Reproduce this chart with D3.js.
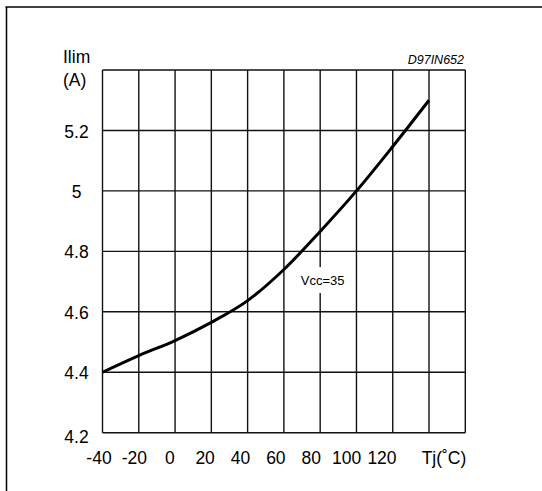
<!DOCTYPE html>
<html>
<head>
<meta charset="utf-8">
<script src="https://cdn.jsdelivr.net/npm/d3@7"></script>
<style>
  html, body { margin: 0; padding: 0; background: #fff; }
  svg { display: block; font-family: "Liberation Sans", Arial, sans-serif; }
</style>
</head>
<body>
<svg id="chart" width="542" height="491"></svg>
<script>
// ---- data ----
const tempC = [-40, -20, 0, 20, 40, 60, 80, 100, 120, 140];
const ilimA = [4.40, 4.455, 4.505, 4.565, 4.637, 4.74, 4.866, 5.0, 5.147, 5.30];
const xTickValues = [-40, -20, 0, 20, 40, 60, 80, 100, 120];
const xGridValues = [-40, -20, 0, 20, 40, 60, 80, 100, 120, 140, 160];
const yTickValues = [4.2, 4.4, 4.6, 4.8, 5.0, 5.2];
const yGridValues = [4.2, 4.4, 4.6, 4.8, 5.0, 5.2, 5.4];
const yTickLabels = ["4.2", "4.4", "4.6", "4.8", "5", "5.2"];
const xAxisTitle = "Tj(˚C)";
const yAxisTitle = ["Ilim", "(A)"];
const figureCode = "D97IN652";
const curveLabel = "Vcc=35";
const curveLabelAt = { t: 80, i: 4.705 };

// ---- layout ----
(function () {
const svg = d3.select("#chart");
const pLeft = 102.5, pRight = 465.3, pTop = 70, pBottom = 432.7;

const x = d3.scaleLinear().domain([-40, 160]).range([pLeft, pRight]);
const y = d3.scaleLinear().domain([4.2, 5.4]).range([pBottom, pTop]);
// tick labels in the original sit on a slightly compressed spacing
const xLab = d3.scaleLinear().domain([-40, 120]).range([99, 382]);

// outer frame (page border)
svg.append("line").attr("x1", 5.5).attr("x2", 542).attr("y1", 7).attr("y2", 7)
  .attr("stroke", "#000").attr("stroke-width", 1.5);
svg.append("line").attr("x1", 6.5).attr("x2", 6.5).attr("y1", 7).attr("y2", 491)
  .attr("stroke", "#000").attr("stroke-width", 1.5);

// grid
const g = svg.append("g");
g.selectAll(".vg").data(xGridValues).join("line")
  .attr("x1", d => x(d)).attr("x2", d => x(d))
  .attr("y1", pTop).attr("y2", pBottom)
  .attr("stroke", "#111").attr("stroke-width", 1.4);
g.selectAll(".hg").data(yGridValues).join("line")
  .attr("x1", pLeft).attr("x2", pRight)
  .attr("y1", d => y(d)).attr("y2", d => y(d))
  .attr("stroke", "#111").attr("stroke-width", 1.4);

// curve
const line = d3.line()
  .x((d, i) => x(tempC[i]))
  .y(d => y(d))
  .curve(d3.curveMonotoneX);
svg.append("path").datum(ilimA)
  .attr("d", line)
  .attr("fill", "none").attr("stroke", "#000").attr("stroke-width", 3)
  .attr("stroke-linecap", "butt");

// curve label with white knockout
const lx = x(curveLabelAt.t) + 2.5, ly = y(curveLabelAt.i);
svg.append("rect").attr("x", lx - 22).attr("y", ly - 13).attr("width", 44).attr("height", 26)
  .attr("fill", "#fff");
svg.append("text").attr("x", lx).attr("y", ly).attr("dy", "0.35em")
  .attr("text-anchor", "middle").attr("font-size", 13).text(curveLabel);

// y tick labels
svg.selectAll(".yl").data(yTickValues).join("text")
  .attr("x", 76.5)
  .attr("y", d => y(d) + (d === 4.2 ? 4 : 1))
  .attr("dy", "0.35em")
  .attr("text-anchor", "middle")
  .attr("font-size", 17.5)
  .text((d, i) => yTickLabels[i]);

// x tick labels
svg.selectAll(".xl").data(xTickValues).join("text")
  .attr("x", d => xLab(d))
  .attr("y", 463.5)
  .attr("text-anchor", "middle")
  .attr("font-size", 17.5)
  .text(d => String(d));

// axis titles
svg.append("text").attr("x", 444).attr("y", 463.5).attr("text-anchor", "middle")
  .attr("font-size", 17.5).text(xAxisTitle);
svg.append("text").attr("x", 63).attr("y", 63).attr("font-size", 17.5).text(yAxisTitle[0]);
svg.append("text").attr("x", 63).attr("y", 86).attr("font-size", 17.5).text(yAxisTitle[1]);

// figure code
svg.append("text").attr("x", 464).attr("y", 64).attr("text-anchor", "end")
  .attr("font-size", 12.5).attr("font-style", "italic").text(figureCode);
})();
</script>
</body>
</html>
